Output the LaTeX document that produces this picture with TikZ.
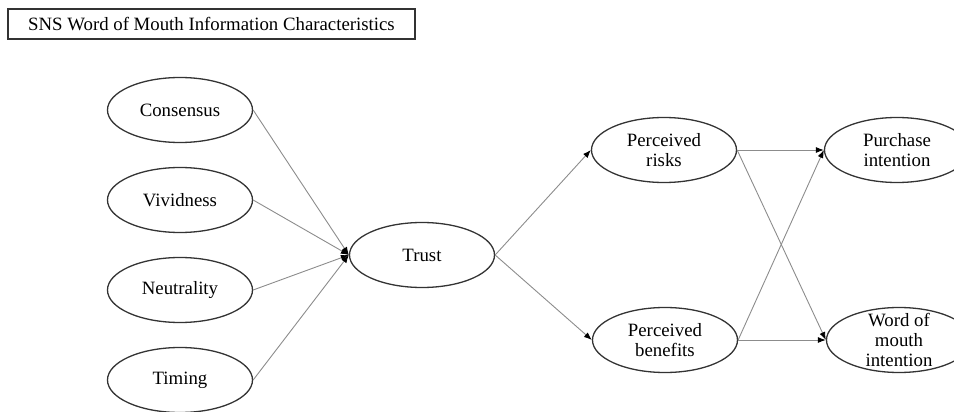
\documentclass[tikz,border=0pt]{standalone}
\usepackage{fontspec}
\setmainfont{Liberation Serif}
\usetikzlibrary{arrows.meta,positioning,shapes.geometric}

\begin{document}
\begin{tikzpicture}[
  x=1pt, y=-1pt,
  every node/.style={font=\fontsize{18.8}{20}\selectfont},
  construct/.style={draw=black!80, line width=1.3pt, ellipse, minimum width=145pt,
                    minimum height=65pt, inner sep=0pt, align=center},
  link/.style={draw=black!45, line width=0.9pt,
               -{Latex[color=black, length=8pt, width=6pt]}}
]
  \useasboundingbox (0,0) rectangle (954,412);
  \clip (0,0) rectangle (954,412);
  % title box
  \node[draw=black!80, line width=1.2pt, minimum width=407pt, minimum height=30pt,
        inner sep=0pt] (title) at (211.5,24) {SNS Word of Mouth Information Characteristics};
  % information characteristics
  \foreach \y/\name/\lab in {110/cons/Consensus, 200/viv/Vividness,
                             290/neut/Neutrality, 380/tim/Timing} {
    \node[construct] (\name) at (180,\y) {\lab};
  }
  \node[construct] (trust) at (422,255) {Trust};
  \node[construct] (risk) at (664,150) {Perceived\\risks};
  \node[construct] (benef) at (665,340) {Perceived\\benefits};
  \node[construct] (purch) at (897,150) {Purchase\\intention};
  \node[construct, inner ysep=-6pt] (wom) at (899,340) {Word of\\mouth\\intention};
  % paths
  \foreach \src in {cons,viv,neut,tim}
    \draw[link] (\src.east) -- (trust.west);
  \draw[link] (trust.east) -- (risk.west);
  \draw[link] (trust.east) -- (benef.west);
  \draw[link] (risk.east) -- (purch.west);
  \draw[link] (risk.east) -- (wom.west);
  \draw[link] (benef.east) -- (purch.west);
  \draw[link] (benef.east) -- (wom.west);
\end{tikzpicture}
\end{document}
